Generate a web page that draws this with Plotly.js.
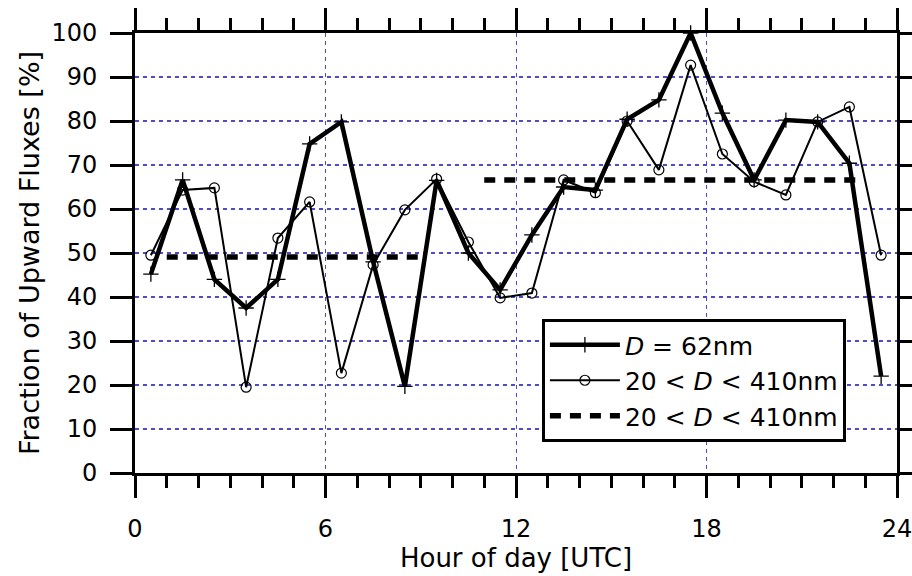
<!DOCTYPE html>
<html>
<head>
<meta charset="utf-8">
<script src="https://cdn.plot.ly/plotly-3.0.1.min.js"></script>
<style>html,body{margin:0;padding:0;background:#fff}#chart{width:912px;height:576px}</style>
</head>
<body>
<div id="chart"></div>
<script>
// hours (bin centres)
const hours = [0.5,1.5,2.5,3.5,4.5,5.5,6.5,7.5,8.5,9.5,10.5,11.5,12.5,13.5,14.5,15.5,16.5,17.5,18.5,19.5,20.5,21.5,22.5,23.5];
// D = 62nm
const frac62 = [45.2,66.6,44,37.5,44,74.8,79.8,48,19.7,66.5,50,41.6,54.1,65,64.3,80.4,84.8,100,81.8,66.6,80.2,79.8,70.4,22];
// 20 < D < 410nm
const fracAll = [49.5,64.3,64.8,19.5,53.4,61.6,22.7,47.3,59.8,66.8,52.5,39.8,40.9,66.6,63.7,80,68.9,92.7,72.5,66.2,63.2,79.8,83.2,49.5];
// period means (20 < D < 410nm)
const meanX = [1, 9.1, null, 11, 22.8];
const meanY = [49.1, 49.1, null, 66.6, 66.6];
const xRange = [0, 24];
const xTickVals = [0,6,12,18,24];
const xHourVals = [0,1,2,3,4,5,6,7,8,9,10,11,12,13,14,15,16,17,18,19,20,21,22,23,24];
const xHourText = xHourVals.map(h => (xTickVals.includes(h) ? String(h) : ''));
const yTickVals = [0,10,20,30,40,50,60,70,80,90,100];

const FONT = 'DejaVu Sans, sans-serif';
const GRID = '#4b4bcc';

const traces = [
  {x: hours, y: frac62, type:'scatter', mode:'lines+markers', name:'<i>D</i> = 62nm',
   line:{color:'#000', width:4.5}, marker:{symbol:'cross-thin', size:11, color:'#000', line:{color:'#000', width:1.3}},
   cliponaxis:false},
  {x: hours, y: fracAll, type:'scatter', mode:'lines+markers', name:'20 < <i>D</i> < 410nm',
   line:{color:'#000', width:2}, marker:{symbol:'circle-open', size:10, color:'#000', line:{color:'#000', width:1.2}},
   cliponaxis:false},
  {x: meanX, y: meanY, xaxis:'x2', yaxis:'y', type:'scatter', mode:'lines', name:'20 < <i>D</i> < 410nm',
   line:{color:'#000', width:5.5, dash:'11px,9px'}, connectgaps:false}
];

const layout = {
  width:912, height:576,
  margin:{l:135, r:15, t:33, b:103},
  paper_bgcolor:'#fff', plot_bgcolor:'#fff',
  font:{family:FONT, size:24, color:'#000'},
  showlegend:true,
  legend:{x:0.534, y:0.35, xanchor:'left', yanchor:'top', bgcolor:'#fff', bordercolor:'#000', borderwidth:3,
          font:{family:FONT, size:25, color:'#000'}, itemwidth:70, tracegroupgap:0},
  // hourly (minor) ticks + labels
  xaxis:{range:xRange, tickmode:'array', tickvals:xHourVals, ticktext:xHourText,
         ticks:'outside', ticklen:12, tickwidth:3, tickcolor:'#000',
         showline:true, linewidth:3, linecolor:'#000', mirror:'allticks',
         showgrid:false, zeroline:false, ticklabelstandoff:20, ticklabeloverflow:'allow',
         tickfont:{family:FONT, size:24, color:'#000'},
         title:{text:'Hour of day [UTC]', font:{family:FONT, size:26, color:'#000'}, standoff:4}},
  // 6-hourly (major) ticks + vertical grid
  xaxis2:{overlaying:'x', anchor:'y', side:'bottom', range:xRange, tickmode:'array', tickvals:xTickVals,
         ticks:'outside', ticklen:24, tickwidth:3, tickcolor:'#000', showticklabels:false,
         showline:false, mirror:'allticks', zeroline:false,
         showgrid:true, gridcolor:GRID, gridwidth:1, griddash:'4px,4px'},
  yaxis:{range:[0,100], tickmode:'array', tickvals:yTickVals, ticktext:yTickVals.map(String),
         ticks:'outside', ticklen:22, tickwidth:3, tickcolor:'#000',
         showline:true, linewidth:3, linecolor:'#000', mirror:'allticks',
         showgrid:true, gridcolor:GRID, gridwidth:1.2, griddash:'4px,4px',
         zeroline:false, ticklabelstandoff:8,
         tickfont:{family:FONT, size:24, color:'#000'},
         title:{text:'Fraction of Upward Fluxes [%]', font:{family:FONT, size:27, color:'#000'}, standoff:4}}
};

Plotly.newPlot('chart', traces, layout, {displayModeBar:false, staticPlot:true});
</script>
</body>
</html>
